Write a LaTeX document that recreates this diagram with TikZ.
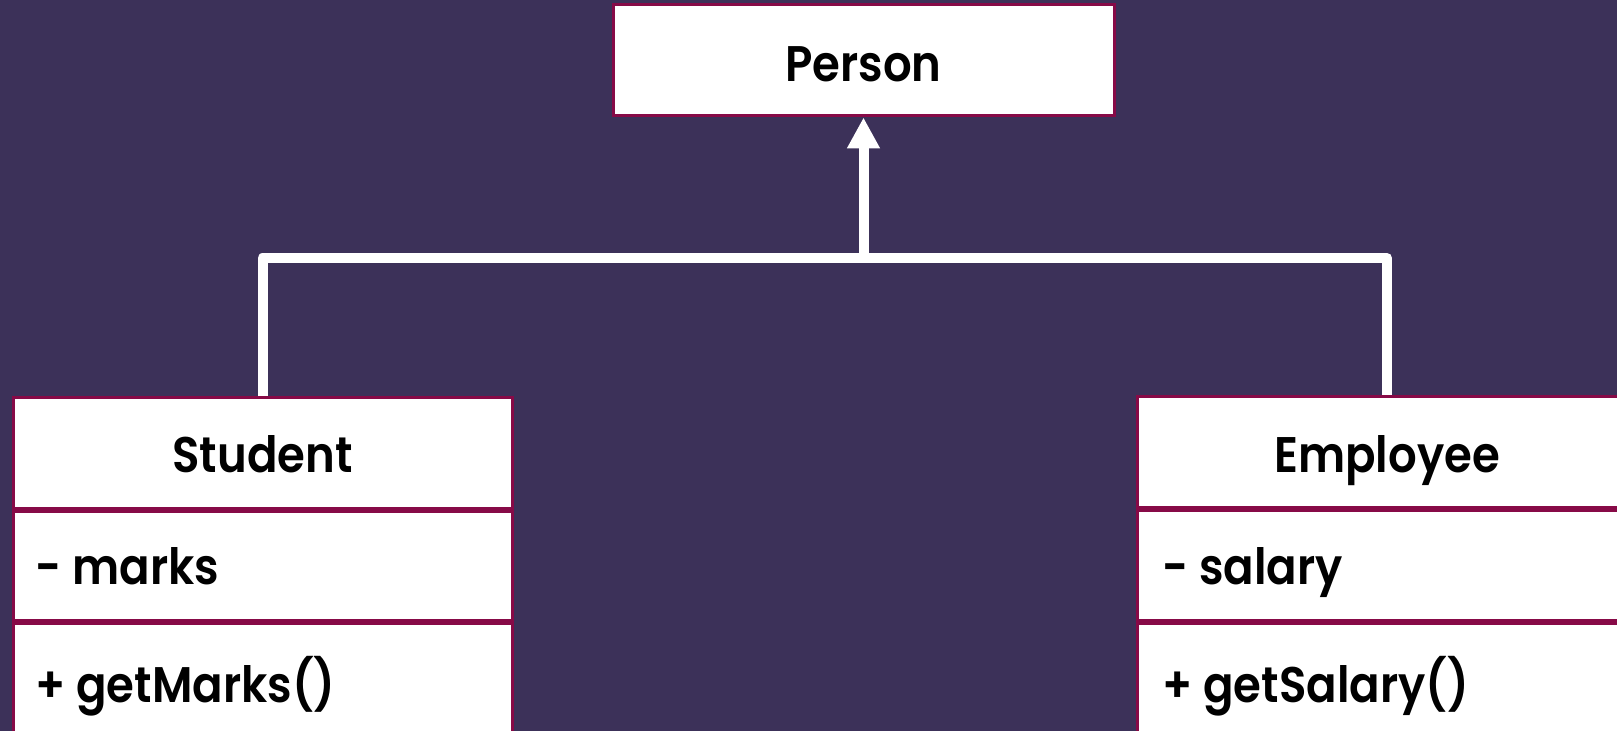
\documentclass[tikz,border=0pt]{standalone}
\usepackage{fontspec}
\setmainfont{Poppins}[BoldFont={* SemiBold},BoldFeatures={FakeStretch=0.9}]
\usetikzlibrary{arrows.meta}
\definecolor{bgc}{RGB}{60,49,89}
\definecolor{bordc}{RGB}{135,10,71}
\begin{document}
\begin{tikzpicture}[x=0.5pt,y=-0.5pt,
  cls/.style={draw=bordc,fill=white,line width=1.5pt,rectangle,inner sep=0pt,
    minimum width=249.5pt},
  txt/.style={inner sep=0pt,font=\fontsize{25}{30}\selectfont\bfseries},
  lbl/.style={txt,anchor=base west},
  ttl/.style={txt,anchor=base},
  conn/.style={draw=white,line width=5pt,line join=round}]
\fill[bgc] (0,0) rectangle (1617,731);
\useasboundingbox (0,0) rectangle (1617,731);
% Person
\node[cls,minimum width=250.5pt,minimum height=55.5pt] (person) at (863.5,60.5) {};
\node[ttl] (persont) at (863.5,82) {Person};
% Student
\node[cls,minimum height=55.5pt] (st1) at (262.5,453.5) {};
\node[cls,minimum height=54.5pt] (st2) at (262.5,566.5) {};
\node[cls,minimum height=60.5pt] (st3) at (262.5,684.5) {};
\node[ttl] (st1t) at (262.5,473) {Student};
\node[lbl] (st2t) at (35,585) {- marks};
\node[lbl] (st3t) at (35,702) {+ getMarks()};
% Employee
\node[cls,minimum height=55.5pt] (em1) at (1387,452.5) {};
\node[cls,minimum height=55pt] (em2) at (1387,566) {};
\node[cls,minimum height=60.5pt] (em3) at (1387,684.5) {};
\node[ttl] (em1t) at (1387,473) {Employee};
\node[lbl] (em2t) at (1162,585) {- salary};
\node[lbl] (em3t) at (1162,702) {+ getSalary()};
% connectors
\coordinate (j) at (863.5,258);
\draw[conn] (st1.north) |- (j) -| (em1.north);
\draw[conn,-{Triangle[width=15.5pt,length=15.5pt]}] (j) -- (person.south);
\end{tikzpicture}
\end{document}
